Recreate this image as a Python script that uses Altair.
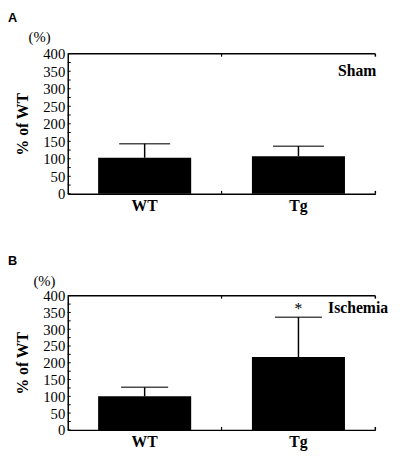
import altair as alt
import pandas as pd

# ---- data ----
groups = ["WT", "Tg"]
sham_mean = [103, 107]
sham_top = [143, 136]          # top of the error bar (mean + SD)
isch_mean = [100, 217]
isch_top = [127, 336]
star_group = ["Tg"]
star_value = [346]
y_ticks = [0, 50, 100, 150, 200, 250, 300, 350, 400]
minor_ticks = list(range(0, 401, 25))

SERIF = "Liberation Serif"
SANS = "Liberation Sans"
W = 314

XAXIS = alt.Axis(title=None, ticks=False, labelAngle=0, labelFont=SERIF,
                 labelFontSize=16, labelFontWeight="bold", labelColor="black",
                 domainColor="black", domainWidth=1.5, labelPadding=4)
YAXIS = alt.Axis(title="% of WT", values=y_ticks, ticks=False, grid=False,
                 labelFont=SERIF, labelFontSize=15, labelColor="black",
                 labelPadding=3, labelOverlap=False,
                 domainColor="black", domainWidth=1.5,
                 titleFont=SERIF, titleFontSize=16, titleFontWeight="bold",
                 titleColor="black", titlePadding=13)


def panel(means, tops, H, tag, cond, cap, pct_x, pct_y, tag_y, cond_x, cond_y, star=False):
    df = pd.DataFrame({"group": groups, "mean": means, "top": tops})
    xs = alt.Scale(paddingInner=0.395, paddingOuter=0.1975)
    ys = alt.Scale(domain=[0, 400], nice=False)

    def X():
        return alt.X("group:N", sort=groups, scale=xs, axis=XAXIS)

    def Y(f):
        return alt.Y(f, scale=ys, axis=YAXIS)

    base = alt.Chart(df)
    bars = base.mark_bar(color="black").encode(x=X(), y=Y("mean:Q"))
    stems = base.mark_rule(color="black", strokeWidth=1.5).encode(
        x=X(), y=Y("mean:Q"), y2="top:Q")
    caps = base.mark_tick(color="black", thickness=1.5, size=cap).encode(
        x=X(), y=Y("top:Q"))
    minor = alt.Chart(pd.DataFrame({"v": minor_ticks})).mark_rule(
        color="black", strokeWidth=1).encode(
        y=Y("v:Q"), x=alt.value(0), x2=alt.value(3))

    fr = alt.Chart(pd.DataFrame({"k": [0]}))
    top_line = fr.mark_rule(color="black", strokeWidth=1.5).encode(
        x=alt.value(0), x2=alt.value(W), y=alt.value(0))
    t1 = fr.mark_rule(color="black", strokeWidth=1.2).encode(
        x=alt.value(W / 2), y=alt.value(0), y2=alt.value(3))
    t2 = fr.mark_rule(color="black", strokeWidth=1.2).encode(
        x=alt.value(W / 2), y=alt.value(H - 3), y2=alt.value(H))
    t3 = fr.mark_rule(color="black", strokeWidth=1.5).encode(
        x=alt.value(W), y=alt.value(0), y2=alt.value(3))
    t4 = fr.mark_rule(color="black", strokeWidth=1.5).encode(
        x=alt.value(W), y=alt.value(H - 3), y2=alt.value(H))

    tag_t = alt.Chart(pd.DataFrame({"t": [tag]})).mark_text(
        font=SANS, fontSize=13, fontWeight="bold", align="left", baseline="alphabetic",
        color="black").encode(text="t:N", x=alt.value(-61), y=alt.value(tag_y))
    pct_t = alt.Chart(pd.DataFrame({"t": ["(%)"]})).mark_text(
        font=SERIF, fontSize=15, align="left", baseline="middle",
        color="black").encode(text="t:N", x=alt.value(pct_x), y=alt.value(pct_y))
    cond_t = alt.Chart(pd.DataFrame({"t": [cond]})).mark_text(
        font=SERIF, fontSize=16, fontWeight="bold", align="right", baseline="alphabetic",
        color="black").encode(text="t:N", x=alt.value(cond_x), y=alt.value(cond_y))

    layers = [bars, stems, caps, minor, top_line, t1, t2, t3, t4, tag_t, pct_t, cond_t]
    if star:
        sdf = pd.DataFrame({"group": star_group, "v": star_value, "t": ["*"]})
        star_t = alt.Chart(sdf).mark_text(
            font=SERIF, fontSize=16, align="center", baseline="alphabetic",
            color="black").encode(x=X(), y=Y("v:Q"), text="t:N")
        layers.append(star_t)
    return alt.layer(*layers).properties(width=W, height=H)


a = panel(sham_mean, sham_top, 143, "A", "Sham", 52, -40, -17, -32, W + 1, 23)
b = panel(isch_mean, isch_top, 137, "B", "Ischemia", 48, -35, -15, -31, W + 13, 18, star=True)

chart = alt.vconcat(a, b, spacing=104, bounds="flush").properties(
    padding={"left": 0, "top": 0, "right": 4, "bottom": 4}
).configure_view(stroke=None)

chart.save("out.html", embed_options={"renderer": "svg", "actions": False})
